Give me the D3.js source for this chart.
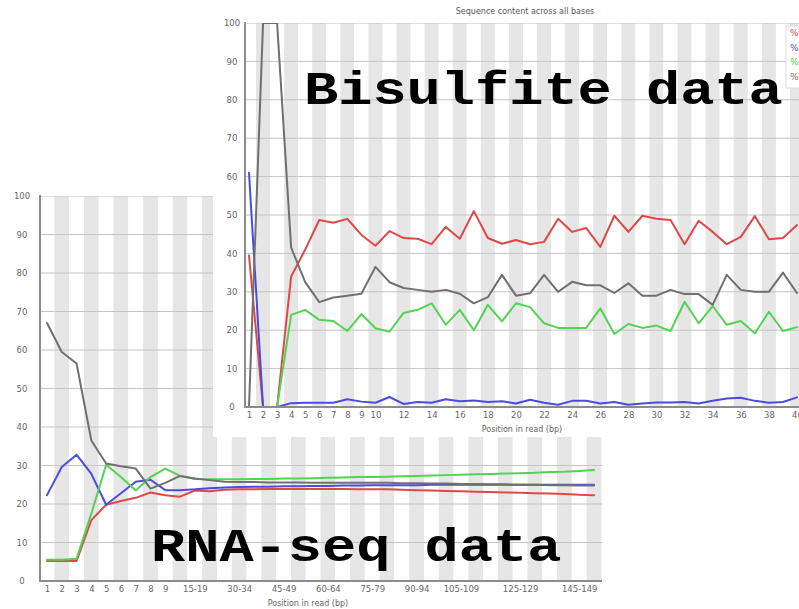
<!DOCTYPE html>
<html>
<head>
<meta charset="utf-8">
<script src="https://cdn.jsdelivr.net/npm/d3@7"></script>
<style>
body { margin: 0; background: #fff; overflow: hidden; }
text { font-family: "DejaVu Sans", sans-serif; }
</style>
</head>
<body>
<svg id="chart"></svg>
<script>
// RNA-seq panel: binned positions as FastQC groups them
let rnaCategories = ["1", "2", "3", "4", "5", "6", "7", "8", "9",
    "10-14", "15-19", "20-24", "25-29", "30-34", "35-39", "40-44", "45-49",
    "50-54", "55-59", "60-64", "65-69", "70-74", "75-79", "80-84", "85-89",
    "90-94", "95-99", "100-104", "105-109", "110-114", "115-119", "120-124",
    "125-129", "130-134", "135-139", "140-144", "145-149", "150-151"];
let rnaTickLabels = ["1", "2", "3", "4", "5", "6", "7", "8", "9", "15-19", "30-34",
    "45-49", "60-64", "75-79", "90-94", "105-109", "125-129", "145-149"];
let rnaT = [5.2, 5.2, 5.2, 15.8, 19.8, 20.8, 21.6, 23, 22.3, 21.9, 23.5, 23.3,
    23.7, 23.8, 23.8, 23.9, 23.9, 23.9, 23.9, 23.9, 23.9, 23.8, 23.8, 23.8, 23.7,
    23.6, 23.5, 23.4, 23.3, 23.2, 23.1, 23, 22.9, 22.8, 22.7, 22.6, 22.4, 22.3];
let rnaC = [22.3, 29.6, 32.8, 27.8, 19.8, 22.8, 25.8, 26.3, 23.6, 23.6, 23.8, 24.1,
    24.3, 24.4, 24.5, 24.5, 24.6, 24.6, 24.7, 24.7, 24.8, 24.8, 24.9, 24.9, 24.9,
    24.9, 25, 25, 25, 25, 25, 25, 25, 25, 25, 25, 25, 25];
let rnaA = [5.5, 5.5, 5.8, 17.5, 30.2, 27, 23.5, 27, 29.2, 27.3, 26.5, 26.4,
    26.4, 26.4, 26.5, 26.5, 26.6, 26.6, 26.7, 26.8, 26.9, 27, 27, 27.1, 27.2,
    27.3, 27.4, 27.5, 27.6, 27.7, 27.8, 27.9, 28, 28.1, 28.3, 28.4, 28.6, 28.8];
let rnaG = [67, 59.5, 56.5, 36.5, 30.5, 29.8, 29.2, 24, 25.5, 27.3, 26.6, 26.2,
    25.8, 25.7, 25.7, 25.6, 25.6, 25.6, 25.5, 25.5, 25.5, 25.5, 25.5, 25.5, 25.4,
    25.4, 25.3, 25.3, 25.2, 25.2, 25.1, 25.1, 25, 25, 24.9, 24.9, 24.8, 24.8];

// Bisulfite panel: one point per base
let bisPositions = [1, 2, 3, 4, 5, 6, 7, 8, 9, 10, 11, 12, 13, 14, 15, 16, 17, 18, 19, 20,
    21, 22, 23, 24, 25, 26, 27, 28, 29, 30, 31, 32, 33, 34, 35, 36, 37, 38, 39, 40];
let bisTickLabels = [1, 2, 3, 4, 5, 6, 7, 8, 9, 10, 12, 14, 16, 18, 20, 22, 24, 26, 28,
    30, 32, 34, 36, 38, 40];
let bisT = [39.5, 0, 0, 34, 41, 48.7, 48, 49, 44.8, 42, 45.8, 44, 43.8, 42.4, 46.9, 43.8,
    51, 44, 42.5, 43.5, 42.4, 43, 49, 45.6, 46.6, 41.7, 49.8, 45.6, 49.8, 49, 48.7, 42.4,
    48.5, 45.6, 42.4, 44.3, 49.7, 43.7, 44, 47.4];
let bisC = [61, 0, 0, 1, 1.1, 1.1, 1.1, 2, 1.4, 1.1, 2.6, 0.8, 1.3, 1.1, 2, 1.5, 1.7, 1.3,
    1.5, 0.9, 1.9, 1.1, 0.6, 1.6, 1.6, 0.9, 1.3, 0.6, 0.9, 1.2, 1.2, 1.3, 0.9, 1.6, 2.2,
    2.4, 1.6, 1.1, 1.3, 2.5];
let bisA = [0, 0, 0, 24, 25.3, 22.7, 22.4, 19.8, 24.2, 20.5, 19.6, 24.5, 25.3, 27, 21.4,
    25.3, 20, 26.6, 22.3, 27, 26, 21.8, 20.6, 20.6, 20.6, 25.7, 19, 21.6, 20.6, 21.2, 19.8,
    27.4, 21.8, 26.3, 21.4, 22.4, 19.2, 24.8, 19.8, 20.8];
let bisG = [0, 100, 100, 41.5, 32.5, 27.3, 28.5, 29, 29.5, 36.5, 32.5, 31, 30.5, 30, 30.5,
    29.5, 27, 28.6, 34.4, 29, 29.6, 34.4, 30, 32.6, 31.7, 31.7, 29.7, 32.2, 29, 29, 30.5,
    29.4, 29.4, 26.6, 34.4, 30.5, 30, 30, 35, 29.7];

let yTicks = [0, 10, 20, 30, 40, 50, 60, 70, 80, 90, 100];
let baseNames = ["%T", "%C", "%A", "%G"];
let baseColors = ["#e04848", "#4b4be0", "#52d452", "#707070"];

let svg = d3.select("#chart")
    .attr("width", 799)
    .attr("height", 609);

function drawPanel(opts) {
    let g = svg.append("g");

    g.append("rect")
        .attr("x", opts.box.x).attr("y", opts.box.y)
        .attr("width", opts.box.w).attr("height", opts.box.h)
        .attr("fill", "#fff");

    let p = opts.plot;
    let x = opts.x;
    let y = d3.scaleLinear().domain([0, 100]).range([p.bottom, p.top]);

    let clipId = "clip-" + opts.id;
    g.append("clipPath").attr("id", clipId)
        .append("rect")
        .attr("x", p.left).attr("y", p.top)
        .attr("width", p.right - p.left).attr("height", p.bottom - p.top);

    let plot = g.append("g").attr("clip-path", "url(#" + clipId + ")");

    // alternating base stripes
    plot.selectAll("rect.band")
        .data(opts.categories)
        .enter().append("rect")
        .attr("class", "band")
        .attr("x", function (d) { return x(d) - opts.step / 2 })
        .attr("y", p.top)
        .attr("width", opts.step)
        .attr("height", p.bottom - p.top)
        .attr("fill", function (d, i) { return i % 2 === 1 ? "#e6e6e6" : "#fff" });

    plot.selectAll("line.grid")
        .data(yTicks)
        .enter().append("line")
        .attr("class", "grid")
        .attr("x1", p.left).attr("x2", p.right)
        .attr("y1", function (d) { return y(d) })
        .attr("y2", function (d) { return y(d) })
        .attr("stroke", "#c4c4c4")
        .attr("stroke-width", 1);

    opts.series.forEach(function (values, k) {
        let line = d3.line()
            .x(function (d, i) { return x(opts.categories[i]) })
            .y(function (d) { return y(d) });
        plot.append("path")
            .datum(values)
            .attr("fill", "none")
            .attr("stroke", baseColors[k])
            .attr("stroke-width", 2)
            .attr("stroke-linejoin", "round")
            .attr("stroke-linecap", "round")
            .attr("d", line);
    });

    // axis lines
    g.append("path")
        .attr("d", "M" + p.left + "," + (p.top - 1) + "V" + p.bottom + "H" + p.right)
        .attr("fill", "none")
        .attr("stroke", "#8c8c8c")
        .attr("stroke-width", 2);

    let yAxis = g.append("g")
        .attr("transform", "translate(" + p.left + ",0)")
        .call(d3.axisLeft(y).tickValues(yTicks).tickSize(0));
    yAxis.select(".domain").remove();
    yAxis.selectAll("text")
        .attr("x", opts.yLabelOffset)
        .attr("text-anchor", "middle")
        .attr("fill", "#666")
        .style("font-size", "8.5px")
        .style("font-family", "DejaVu Sans");

    let xAxis = g.append("g")
        .attr("transform", "translate(0," + p.bottom + ")")
        .call(d3.axisBottom(x).tickValues(opts.tickLabels).tickSize(0).tickPadding(5));
    xAxis.select(".domain").remove();
    xAxis.selectAll("text")
        .attr("fill", "#666")
        .style("font-size", "8.5px")
        .style("font-family", "DejaVu Sans");

    g.append("text")
        .attr("x", opts.xTitle.x).attr("y", opts.xTitle.y)
        .attr("text-anchor", "middle")
        .attr("fill", "#666")
        .style("font-size", "8px")
        .text("Position in read (bp)");

    if (opts.title) {
        g.append("text")
            .attr("x", opts.title.x).attr("y", opts.title.y)
            .attr("text-anchor", "middle")
            .attr("fill", "#555")
            .style("font-size", "8px")
            .text("Sequence content across all bases");
    }

    if (opts.legend) {
        let lg = g.append("g")
            .attr("transform", "translate(" + opts.legend.x + "," + opts.legend.y + ")");
        lg.append("rect")
            .attr("x", -4).attr("y", -10)
            .attr("width", 40).attr("height", 62)
            .attr("fill", "#fff")
            .attr("stroke", "#ddd");
        lg.selectAll("text")
            .data(baseNames)
            .enter().append("text")
            .attr("x", 0)
            .attr("y", function (d, i) { return i * 14.5 })
            .attr("fill", function (d, i) { return baseColors[i] })
            .style("font-size", "9px")
            .text(function (d) { return d });
    }
    return g;
}

// RNA-seq panel sits behind
let rnaX = d3.scalePoint().domain(rnaCategories).range([47, 594]);
drawPanel({
    id: "rna",
    box: { x: 0, y: 180, w: 610, h: 429 },
    plot: { left: 40, top: 196, right: 602, bottom: 581 },
    x: rnaX,
    step: rnaX.step(),
    categories: rnaCategories,
    tickLabels: rnaTickLabels,
    series: [rnaT, rnaC, rnaA, rnaG],
    yLabelOffset: -18,
    xTitle: { x: 308, y: 606 }
});

// Bisulfite panel on top
let bisX = d3.scaleLinear().domain([1, 40]).range([249, 797]);
drawPanel({
    id: "bis",
    box: { x: 213, y: 0, w: 600, h: 437 },
    plot: { left: 245, top: 23, right: 815, bottom: 407 },
    x: bisX,
    step: bisX(2) - bisX(1),
    categories: bisPositions,
    tickLabels: bisTickLabels,
    series: [bisT, bisC, bisA, bisG],
    yLabelOffset: -13,
    xTitle: { x: 522, y: 432 },
    title: { x: 525, y: 14 },
    legend: { x: 790, y: 36 }
});

// overlay labels, squashed a little vertically like the pasted-in text
function overlayLabel(label, x0, baseline) {
    svg.append("text")
        .attr("transform", "translate(" + x0 + "," + baseline + ") scale(1,0.82)")
        .style("font-family", "'Courier New', 'Liberation Mono', monospace")
        .style("font-weight", "bold")
        .style("font-size", "57px")
        .attr("fill", "#000")
        .text(label);
}
overlayLabel("Bisulfite data", 304, 104);
overlayLabel("RNA-seq data", 151, 561);
</script>
</body>
</html>
